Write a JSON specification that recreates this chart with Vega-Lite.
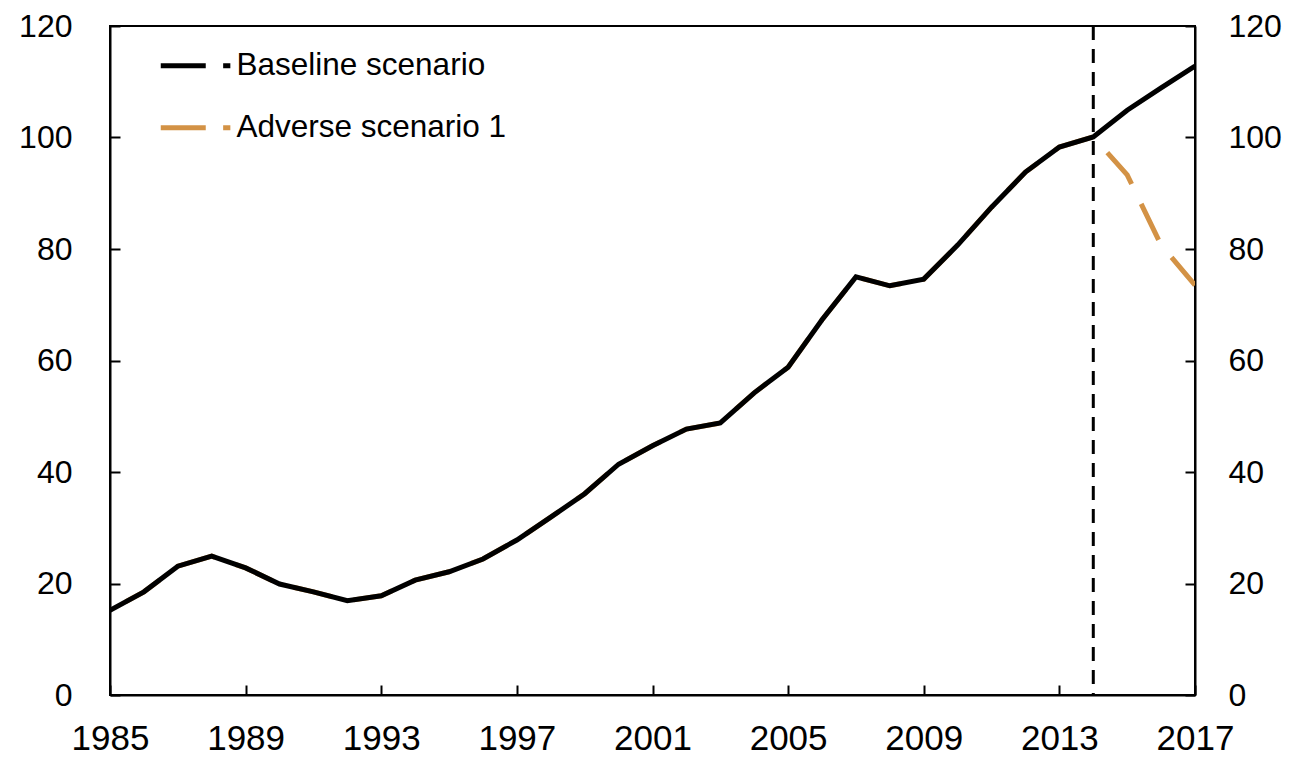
{
  "$schema": "https://vega.github.io/schema/vega-lite/v6.json",
  "width": 1085,
  "height": 669,
  "autosize": {"type": "none"},
  "padding": {"left": 110, "top": 26, "right": 100, "bottom": 65},
  "background": "white",
  "config": {
    "view": {"stroke": "black", "strokeWidth": 2},
    "font": "Liberation Sans",
    "axis": {
      "grid": false,
      "domainColor": "black",
      "domainWidth": 2,
      "tickColor": "black",
      "tickWidth": 2,
      "labelFont": "Liberation Sans",
      "labelFontSize": 32,
      "labelColor": "black",
      "title": null
    }
  },
  "datasets": {
    "lines": [
      {"year": 1985, "value": 15.2, "series": "Adverse scenario 1"},
      {"year": 1986, "value": 18.5, "series": "Adverse scenario 1"},
      {"year": 1987, "value": 23.1, "series": "Adverse scenario 1"},
      {"year": 1988, "value": 24.9, "series": "Adverse scenario 1"},
      {"year": 1989, "value": 22.8, "series": "Adverse scenario 1"},
      {"year": 1990, "value": 19.9, "series": "Adverse scenario 1"},
      {"year": 1991, "value": 18.5, "series": "Adverse scenario 1"},
      {"year": 1992, "value": 16.9, "series": "Adverse scenario 1"},
      {"year": 1993, "value": 17.8, "series": "Adverse scenario 1"},
      {"year": 1994, "value": 20.6, "series": "Adverse scenario 1"},
      {"year": 1995, "value": 22.1, "series": "Adverse scenario 1"},
      {"year": 1996, "value": 24.4, "series": "Adverse scenario 1"},
      {"year": 1997, "value": 27.8, "series": "Adverse scenario 1"},
      {"year": 1998, "value": 31.9, "series": "Adverse scenario 1"},
      {"year": 1999, "value": 36.1, "series": "Adverse scenario 1"},
      {"year": 2000, "value": 41.4, "series": "Adverse scenario 1"},
      {"year": 2001, "value": 44.7, "series": "Adverse scenario 1"},
      {"year": 2002, "value": 47.7, "series": "Adverse scenario 1"},
      {"year": 2003, "value": 48.8, "series": "Adverse scenario 1"},
      {"year": 2004, "value": 54.2, "series": "Adverse scenario 1"},
      {"year": 2005, "value": 58.8, "series": "Adverse scenario 1"},
      {"year": 2006, "value": 67.3, "series": "Adverse scenario 1"},
      {"year": 2007, "value": 75.0, "series": "Adverse scenario 1"},
      {"year": 2008, "value": 73.4, "series": "Adverse scenario 1"},
      {"year": 2009, "value": 74.6, "series": "Adverse scenario 1"},
      {"year": 2010, "value": 80.7, "series": "Adverse scenario 1"},
      {"year": 2011, "value": 87.5, "series": "Adverse scenario 1"},
      {"year": 2012, "value": 93.8, "series": "Adverse scenario 1"},
      {"year": 2013, "value": 98.3, "series": "Adverse scenario 1"},
      {"year": 2014, "value": 100.1, "series": "Adverse scenario 1"},
      {"year": 2015, "value": 93.3, "series": "Adverse scenario 1"},
      {"year": 2016, "value": 80.7, "series": "Adverse scenario 1"},
      {"year": 2017, "value": 73.5, "series": "Adverse scenario 1"},
      {"year": 1985, "value": 15.2, "series": "Baseline scenario"},
      {"year": 1986, "value": 18.5, "series": "Baseline scenario"},
      {"year": 1987, "value": 23.1, "series": "Baseline scenario"},
      {"year": 1988, "value": 24.9, "series": "Baseline scenario"},
      {"year": 1989, "value": 22.8, "series": "Baseline scenario"},
      {"year": 1990, "value": 19.9, "series": "Baseline scenario"},
      {"year": 1991, "value": 18.5, "series": "Baseline scenario"},
      {"year": 1992, "value": 16.9, "series": "Baseline scenario"},
      {"year": 1993, "value": 17.8, "series": "Baseline scenario"},
      {"year": 1994, "value": 20.6, "series": "Baseline scenario"},
      {"year": 1995, "value": 22.1, "series": "Baseline scenario"},
      {"year": 1996, "value": 24.4, "series": "Baseline scenario"},
      {"year": 1997, "value": 27.8, "series": "Baseline scenario"},
      {"year": 1998, "value": 31.9, "series": "Baseline scenario"},
      {"year": 1999, "value": 36.1, "series": "Baseline scenario"},
      {"year": 2000, "value": 41.4, "series": "Baseline scenario"},
      {"year": 2001, "value": 44.7, "series": "Baseline scenario"},
      {"year": 2002, "value": 47.7, "series": "Baseline scenario"},
      {"year": 2003, "value": 48.8, "series": "Baseline scenario"},
      {"year": 2004, "value": 54.2, "series": "Baseline scenario"},
      {"year": 2005, "value": 58.8, "series": "Baseline scenario"},
      {"year": 2006, "value": 67.3, "series": "Baseline scenario"},
      {"year": 2007, "value": 75.0, "series": "Baseline scenario"},
      {"year": 2008, "value": 73.4, "series": "Baseline scenario"},
      {"year": 2009, "value": 74.6, "series": "Baseline scenario"},
      {"year": 2010, "value": 80.7, "series": "Baseline scenario"},
      {"year": 2011, "value": 87.5, "series": "Baseline scenario"},
      {"year": 2012, "value": 93.8, "series": "Baseline scenario"},
      {"year": 2013, "value": 98.3, "series": "Baseline scenario"},
      {"year": 2014, "value": 100.1, "series": "Baseline scenario"},
      {"year": 2015, "value": 104.9, "series": "Baseline scenario"},
      {"year": 2016, "value": 108.9, "series": "Baseline scenario"},
      {"year": 2017, "value": 112.8, "series": "Baseline scenario"}
    ],
    "marker": [{"year": 2014}]
  },
  "layer": [
    {
      "data": {"name": "lines"},
      "transform": [{"filter": "datum.series === 'Adverse scenario 1'"}],
      "mark": {"type": "line", "strokeWidth": 5, "strokeDash": [40, 22], "strokeDashOffset": 44, "clip": true},
      "encoding": {
        "x": {
          "field": "year", "type": "quantitative",
          "scale": {"domain": [1985, 2017], "nice": false, "zero": false},
          "axis": {"values": [1985, 1989, 1993, 1997, 2001, 2005, 2009, 2013, 2017], "format": "d", "tickSize": -10, "labelPadding": 36, "labelFontSize": 35, "labelFlush": false, "labelOverlap": false}
        },
        "y": {
          "field": "value", "type": "quantitative",
          "scale": {"domain": [0, 120], "nice": false},
          "axis": {"values": [0, 20, 40, 60, 80, 100, 120], "tickSize": -10, "labelPadding": 48, "labelFlush": false, "labelOverlap": false}
        },
        "color": {
          "field": "series", "type": "nominal",
          "scale": {"domain": ["Baseline scenario", "Adverse scenario 1"], "range": ["#000000", "#D39245"]},
          "legend": {
            "title": null,
            "orient": "none",
            "legendX": 71,
            "legendY": 24,
            "symbolType": "M-3,0L0.75,0M2.2,0L2.8,0",
            "symbolSize": 576,
            "symbolStrokeWidth": 5,
            "labelFont": "Liberation Sans",
            "labelFontSize": 31.5,
            "labelColor": "black",
            "labelOffset": 24,
            "rowPadding": 29,
            "labelLimit": 500,
            "encode": {"symbols": {"update": {"strokeDash": {"value": [1, 0]}, "fillOpacity": {"value": 0}}}}
          }
        }
      }
    },
    {
      "data": {"name": "lines"},
      "transform": [{"filter": "datum.series === 'Baseline scenario'"}],
      "mark": {"type": "line", "strokeWidth": 5, "clip": true},
      "encoding": {
        "x": {"field": "year", "type": "quantitative"},
        "y": {"field": "value", "type": "quantitative", "axis": null},
        "color": {"field": "series", "type": "nominal"}
      }
    },
    {
      "data": {"name": "marker"},
      "mark": {"type": "rule", "color": "black", "strokeWidth": 3, "strokeDash": [14, 9]},
      "encoding": {
        "x": {"field": "year", "type": "quantitative"},
        "y": {"datum": 120, "type": "quantitative", "axis": {"orient": "right", "values": [0, 20, 40, 60, 80, 100, 120], "tickSize": -10, "labelPadding": 43, "labelFlush": false, "labelOverlap": false}},
        "y2": {"datum": 0}
      }
    }
  ],
  "resolve": {"axis": {"y": "independent"}}
}
